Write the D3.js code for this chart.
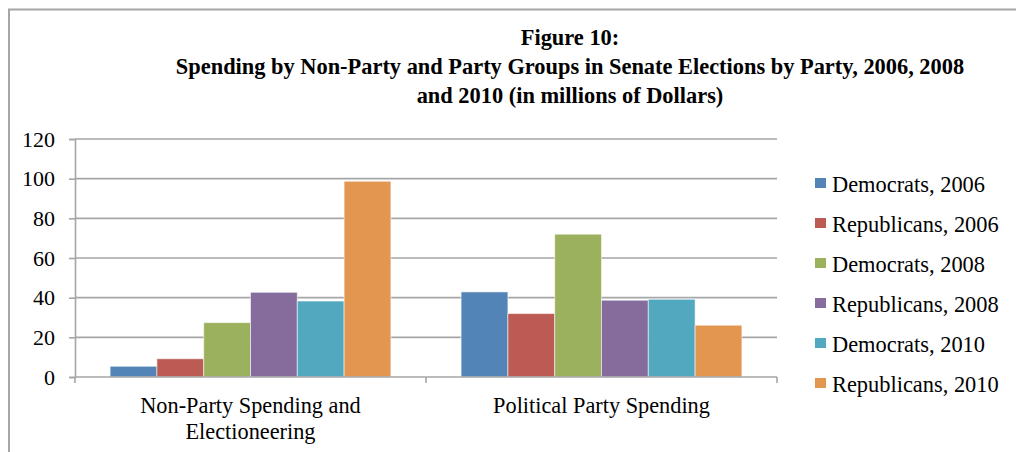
<!DOCTYPE html>
<html>
<head>
<meta charset="utf-8">
<script src="https://cdn.jsdelivr.net/npm/d3@7"></script>
<style>
  html, body { margin: 0; padding: 0; background: #fff; }
  svg { display: block; }
  text { font-family: "Liberation Serif", "Times New Roman", serif; fill: #000; }
</style>
</head>
<body>
<svg id="chart" width="1016" height="452"></svg>
<script>
// Spending groups shown on the category axis
const categories = ["Non-Party Spending and Electioneering", "Political Party Spending"];
const categoryLines = [["Non-Party Spending and", "Electioneering"], ["Political Party Spending"]];

// One series per party and cycle (millions of dollars)
const seriesNames = [
  "Democrats, 2006", "Republicans, 2006",
  "Democrats, 2008", "Republicans, 2008",
  "Democrats, 2010", "Republicans, 2010"
];
const dem2006 = [5.4, 42.9];
const rep2006 = [9.2, 32.0];
const dem2008 = [27.4, 72.0];
const rep2008 = [42.7, 38.7];
const dem2010 = [38.3, 39.2];
const rep2010 = [98.7, 26.1];
const seriesValues = [dem2006, rep2006, dem2008, rep2008, dem2010, rep2010];

const seriesColors = ["#5384B7", "#BB5B54", "#9BB15E", "#866C9D", "#51A8BF", "#E3964F"];

const yTicks = [0, 20, 40, 60, 80, 100, 120];
const titleLines = [
  "Figure 10:",
  "Spending by Non-Party and Party Groups in Senate Elections by Party, 2006, 2008",
  "and 2010 (in millions of Dollars)"
];

const svg = d3.select("#chart");

// outer frame (top and left edges visible)
svg.append("path")
  .attr("d", "M9,452 V9.5 H1016")
  .attr("fill", "none")
  .attr("stroke", "#A6A6A6")
  .attr("stroke-width", 2);

// title
svg.append("g").selectAll("text")
  .data(titleLines)
  .join("text")
  .attr("x", 570)
  .attr("y", (d, i) => 45 + i * 29)
  .attr("text-anchor", "middle")
  .attr("font-weight", "bold")
  .attr("font-size", 22.4)
  .text(d => d);

const plot = { left: 75, right: 777, top: 139, bottom: 377 };

const y = d3.scaleLinear().domain([0, 120]).range([plot.bottom, plot.top]);
const x0 = d3.scaleBand().domain(categories).range([plot.left, plot.right]).padding(0);
const x1 = d3.scaleBand().domain(seriesNames)
  .range([x0.bandwidth() * 0.1, x0.bandwidth() * 0.9]).padding(0);

// gridlines
svg.append("g").selectAll("line")
  .data(yTicks.filter(t => t > 0))
  .join("line")
  .attr("x1", plot.left).attr("x2", plot.right)
  .attr("y1", d => y(d)).attr("y2", d => y(d))
  .attr("stroke", "#A6A6A6").attr("stroke-width", 1.6);

// y axis
const yAxis = svg.append("g")
  .attr("transform", `translate(${plot.left},0)`)
  .call(d3.axisLeft(y).tickValues(yTicks).tickSize(6).tickPadding(14));
yAxis.select(".domain").attr("stroke", "#A6A6A6").attr("stroke-width", 1.6);
yAxis.selectAll(".tick line").attr("stroke", "#A6A6A6").attr("stroke-width", 1.6);
yAxis.selectAll(".tick text")
  .attr("font-family", "Liberation Serif, Times New Roman, serif")
  .attr("font-size", 22).attr("fill", "#000");

// bars
const groups = svg.append("g").selectAll("g")
  .data(categories)
  .join("g")
  .attr("transform", d => `translate(${x0(d)},0)`);

groups.selectAll("rect")
  .data((c, ci) => seriesNames.map((s, si) => ({ s, si, v: seriesValues[si][ci] })))
  .join("rect")
  .attr("x", d => x1(d.s))
  .attr("width", x1.bandwidth())
  .attr("y", d => y(d.v))
  .attr("height", d => y(0) - y(d.v))
  .attr("fill", d => seriesColors[d.si])
  .attr("stroke", "rgba(255,255,255,0.55)")
  .attr("stroke-width", 1);

// x axis
const xAxis = svg.append("g")
  .attr("transform", `translate(0,${plot.bottom})`);
xAxis.append("line")
  .attr("x1", plot.left).attr("x2", plot.right)
  .attr("stroke", "#A6A6A6").attr("stroke-width", 1.6);
const bounds = [plot.left, x0(categories[1]), plot.right];
xAxis.selectAll(".sep")
  .data(bounds)
  .join("line")
  .attr("class", "sep")
  .attr("x1", d => d).attr("x2", d => d)
  .attr("y1", 0).attr("y2", 6)
  .attr("stroke", "#A6A6A6").attr("stroke-width", 1.6);

const labels = svg.append("g").selectAll("text")
  .data(categories)
  .join("text")
  .attr("text-anchor", "middle")
  .attr("font-size", 22.3)
  .attr("x", d => x0(d) + x0.bandwidth() / 2)
  .attr("y", 413);
labels.each(function (d, i) {
  d3.select(this).selectAll("tspan")
    .data(categoryLines[i])
    .join("tspan")
    .attr("x", x0(d) + x0.bandwidth() / 2)
    .attr("dy", (t, j) => j === 0 ? 0 : 26)
    .text(t => t);
});

// legend
const legend = svg.append("g").selectAll("g")
  .data(seriesNames)
  .join("g")
  .attr("transform", (d, i) => `translate(815,${178 + i * 40})`);
legend.append("rect")
  .attr("width", 11).attr("height", 10)
  .attr("fill", (d, i) => seriesColors[i]);
legend.append("text")
  .attr("x", 17).attr("y", 14)
  .attr("font-size", 22.4)
  .text(d => d);
</script>
</body>
</html>
